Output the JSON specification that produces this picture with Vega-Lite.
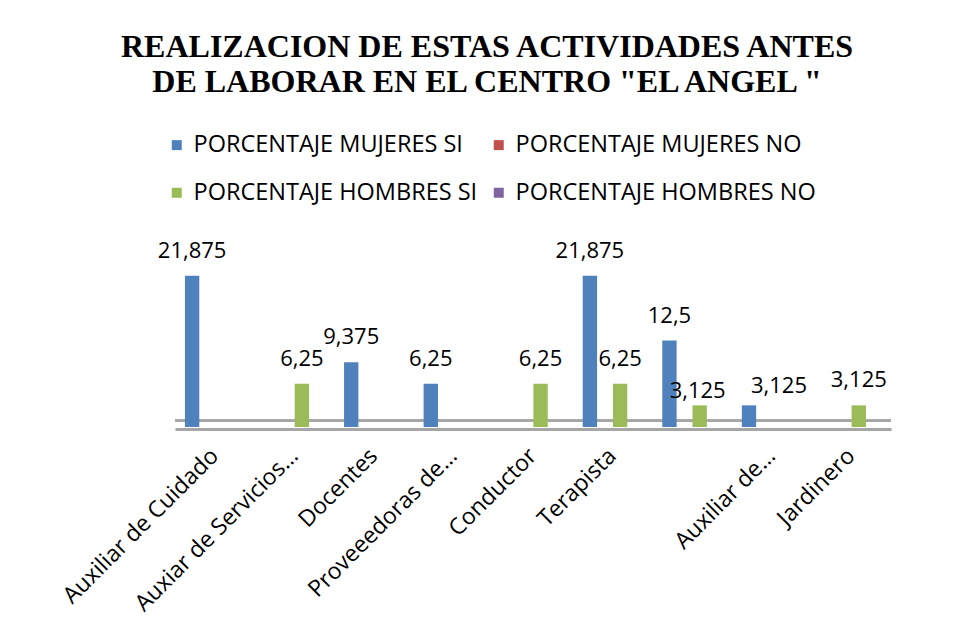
{
  "$schema": "https://vega.github.io/schema/vega-lite/v6.json",
  "width": 716,
  "height": 173,
  "autosize": {"type": "none"},
  "padding": {"left": 175, "top": 254, "right": 69, "bottom": 210},
  "background": "white",
  "title": {
    "text": ["REALIZACION DE ESTAS  ACTIVIDADES ANTES", "DE LABORAR EN EL CENTRO \"EL ANGEL \""],
    "font": "Liberation Serif",
    "fontSize": 32,
    "fontWeight": "bold",
    "color": "black",
    "anchor": "middle",
    "frame": "group",
    "dx": -46,
    "offset": 34,
    "lineHeight": 35
  },
  "data": {
    "values": [
      {"puesto": "Auxiliar de Cuidado", "serie": "PORCENTAJE MUJERES SI", "valor": 21.875},
      {"puesto": "Auxiar de Servicios…", "serie": "PORCENTAJE HOMBRES SI", "valor": 6.25},
      {"puesto": "Docentes", "serie": "PORCENTAJE MUJERES SI", "valor": 9.375},
      {"puesto": "Proveeedoras de…", "serie": "PORCENTAJE MUJERES SI", "valor": 6.25},
      {"puesto": "Conductor", "serie": "PORCENTAJE HOMBRES SI", "valor": 6.25},
      {"puesto": "Terapista", "serie": "PORCENTAJE MUJERES SI", "valor": 21.875},
      {"puesto": "Terapista", "serie": "PORCENTAJE HOMBRES SI", "valor": 6.25},
      {"puesto": " ", "serie": "PORCENTAJE MUJERES SI", "valor": 12.5},
      {"puesto": " ", "serie": "PORCENTAJE HOMBRES SI", "valor": 3.125},
      {"puesto": "Auxiliar de…", "serie": "PORCENTAJE MUJERES SI", "valor": 3.125},
      {"puesto": "Jardinero", "serie": "PORCENTAJE HOMBRES SI", "valor": 3.125}
    ]
  },
  "layer": [
    {
      "mark": {"type": "rule", "color": "#A6A6A6", "strokeWidth": 2},
      "encoding": {"y": {"datum": 0.9, "type": "quantitative", "scale": {"domain": [0, 25], "nice": false}, "axis": null}}
    },
    {
      "mark": {"type": "bar"},
      "encoding": {
        "x": {
          "field": "puesto",
          "type": "nominal",
          "sort": ["Auxiliar de Cuidado", "Auxiar de Servicios…", "Docentes", "Proveeedoras de…", "Conductor", "Terapista", " ", "Auxiliar de…", "Jardinero"],
          "scale": {"paddingInner": 0.25, "paddingOuter": 0.125},
          "axis": {
            "title": null,
            "labelAngle": -45,
            "labelAlign": "right",
            "labelBaseline": "middle",
            "labelFont": "Open Sans",
            "labelFontSize": 23,
            "labelColor": "black",
            "labelPadding": 23,
            "labelLimit": 400,
            "ticks": false,
            "domainColor": "#A6A6A6",
            "domainWidth": 3,
            "offset": 2
          }
        },
        "xOffset": {
          "field": "serie",
          "type": "nominal",
          "scale": {
            "domain": ["PORCENTAJE MUJERES SI", "PORCENTAJE MUJERES NO", "PORCENTAJE HOMBRES SI", "PORCENTAJE HOMBRES NO"],
            "paddingInner": 0.05
          }
        },
        "y": {"field": "valor", "type": "quantitative", "scale": {"domain": [0, 25], "nice": false}, "axis": null},
        "color": {
          "field": "serie",
          "type": "nominal",
          "scale": {
            "domain": ["PORCENTAJE MUJERES SI", "PORCENTAJE MUJERES NO", "PORCENTAJE HOMBRES SI", "PORCENTAJE HOMBRES NO"],
            "range": ["#4F81BD", "#C0504D", "#9BBB59", "#8064A2"]
          },
          "legend": {
            "title": null,
            "orient": "none",
            "direction": "horizontal",
            "columns": 2,
            "legendX": -10,
            "legendY": -121,
            "symbolType": "square",
            "symbolSize": 100,
            "symbolStrokeWidth": 0,
            "labelFont": "Open Sans",
            "labelFontSize": 23.5,
            "labelColor": "black",
            "labelOffset": 5,
            "labelLimit": 500,
            "columnPadding": 9,
            "rowPadding": 23
          }
        }
      }
    },
    {
      "transform": [{"filter": "!(datum.puesto === ' ' && datum.serie === 'PORCENTAJE HOMBRES SI') && datum.puesto !== 'Auxiliar de…'"}],
      "mark": {"type": "text", "baseline": "middle", "dy": -25, "font": "Open Sans", "fontSize": 22, "color": "black"},
      "encoding": {
        "x": {"field": "puesto", "type": "nominal", "sort": ["Auxiliar de Cuidado", "Auxiar de Servicios…", "Docentes", "Proveeedoras de…", "Conductor", "Terapista", " ", "Auxiliar de…", "Jardinero"]},
        "xOffset": {"field": "serie", "type": "nominal"},
        "y": {"field": "valor", "type": "quantitative", "scale": {"domain": [0, 25], "nice": false}},
        "text": {"field": "valor", "type": "quantitative", "format": "~g"}
      }
    },
    {
      "transform": [{"filter": "datum.puesto === ' ' && datum.serie === 'PORCENTAJE HOMBRES SI'"}],
      "mark": {"type": "text", "baseline": "middle", "dy": -14, "dx": -2, "font": "Open Sans", "fontSize": 22, "color": "black"},
      "encoding": {
        "x": {"field": "puesto", "type": "nominal", "sort": ["Auxiliar de Cuidado", "Auxiar de Servicios…", "Docentes", "Proveeedoras de…", "Conductor", "Terapista", " ", "Auxiliar de…", "Jardinero"]},
        "xOffset": {"field": "serie", "type": "nominal"},
        "y": {"field": "valor", "type": "quantitative", "scale": {"domain": [0, 25], "nice": false}},
        "text": {"field": "valor", "type": "quantitative", "format": "~g"}
      }
    },
    {
      "transform": [{"filter": "datum.puesto === 'Auxiliar de…'"}],
      "mark": {"type": "text", "baseline": "middle", "dy": -19, "dx": 30, "font": "Open Sans", "fontSize": 22, "color": "black"},
      "encoding": {
        "x": {"field": "puesto", "type": "nominal", "sort": ["Auxiliar de Cuidado", "Auxiar de Servicios…", "Docentes", "Proveeedoras de…", "Conductor", "Terapista", " ", "Auxiliar de…", "Jardinero"]},
        "xOffset": {"field": "serie", "type": "nominal"},
        "y": {"field": "valor", "type": "quantitative", "scale": {"domain": [0, 25], "nice": false}},
        "text": {"field": "valor", "type": "quantitative", "format": "~g"}
      }
    }
  ],
  "config": {
    "view": {"stroke": null},
    "locale": {"number": {"decimal": ",", "thousands": ".", "grouping": [3], "currency": ["", " €"]}}
  }
}
